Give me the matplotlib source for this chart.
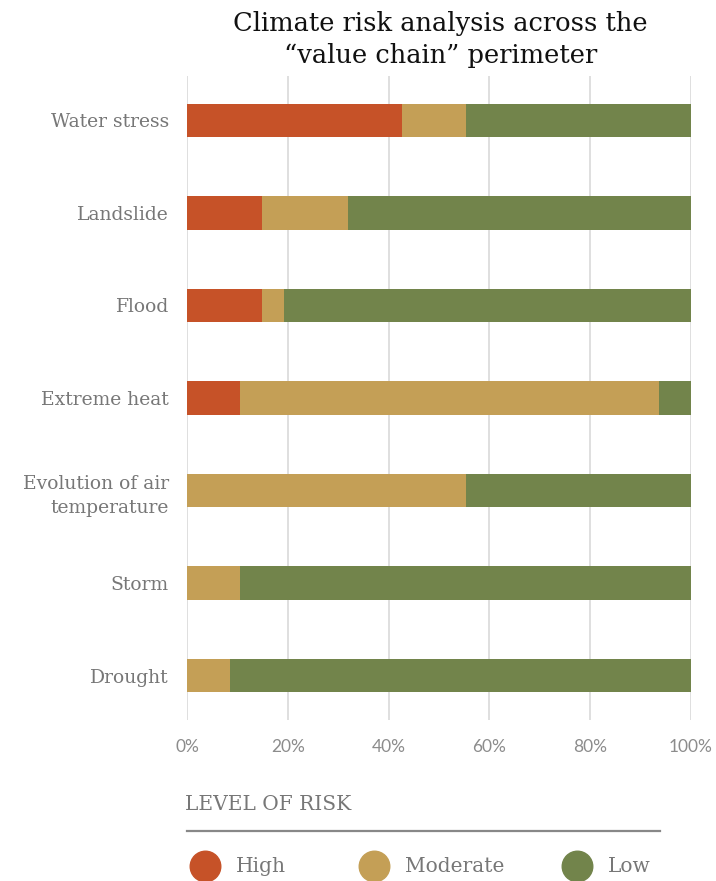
import numpy as np
import matplotlib.pyplot as plt
from matplotlib.lines import Line2D

# ----------------------------
# DATA (share of sites, %)
# ----------------------------

categories = ["Water stress", "Landslide", "Flood", "Extreme heat",
              "Evolution of air\ntemperature", "Storm", "Drought"]
high = [42.6, 14.9, 14.9, 10.6, 0.0, 0.0, 0.0]
moderate = [12.8, 17.0, 4.3, 83.0, 55.3, 10.6, 8.5]
low = [44.6, 68.1, 80.8, 6.4, 44.7, 89.4, 91.5]

levels = ["High", "Moderate", "Low"]
colors = ["#C65228", "#C49F56", "#72844B"]
xticks = [0, 20, 40, 60, 80, 100]

serif = ["DejaVu Serif"]
grey = "#777777"

# ----------------------------
# PLOT
# ----------------------------

fig = plt.figure(figsize=(7.16, 8.81), dpi=100)
ax = fig.add_axes([187 / 716, 161 / 881, 504 / 716, 644 / 881])

y = np.arange(len(categories))
left = np.zeros(len(categories))
for vals, col in zip([high, moderate, low], colors):
    ax.barh(y, vals, left=left, height=0.36, color=col, zorder=3)
    left += np.array(vals)

ax.set_ylim(len(categories) - 0.52, -0.48)
ax.set_xlim(0, 100)
ax.set_xticks(xticks)
ax.set_xticklabels([f"{t}%" for t in xticks], family="Lato", fontsize=12.5, color="#8c8c8c")
ax.set_yticks(y)
ax.set_yticklabels(categories, family=serif, fontsize=13.5, color=grey, linespacing=1.45)
ax.tick_params(length=0)
ax.tick_params(axis="x", pad=14)
ax.tick_params(axis="y", pad=13)
ax.grid(axis="x", color="#d9d9d9", linewidth=1.2, zorder=0)
for s in ax.spines.values():
    s.set_visible(False)

fig.text(0.615, 0.988, "Climate risk analysis across the\n\u201cvalue chain\u201d perimeter",
         ha="center", va="top", family=serif, fontsize=18.5, color="#111111", linespacing=1.38)

# legend
fig.text(185 / 716, 1 - 805 / 881, "LEVEL OF RISK", family=serif, fontsize=14.5,
         color=grey, va="center", ha="left")
fig.add_artist(Line2D([187 / 716, 660 / 716], [1 - 831 / 881] * 2,
                      transform=fig.transFigure, color="#888888", linewidth=1.6))
marker_x = [205, 374, 577]
for mx, lab, col in zip(marker_x, levels, colors):
    fig.add_artist(Line2D([mx / 716], [1 - 866 / 881], transform=fig.transFigure,
                          marker="o", markersize=22, color=col, linestyle="none"))
    fig.text((mx + 31) / 716, 1 - 866 / 881, lab, family=serif, fontsize=14.5,
             color=grey, va="center", ha="left")

fig.savefig("out.png", dpi=100)
